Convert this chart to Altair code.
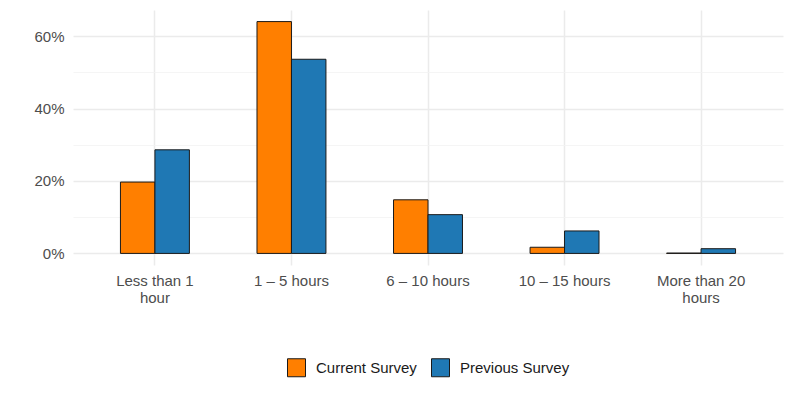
import altair as alt
import pandas as pd

categories = ["Less than 1 hour", "1 – 5 hours", "6 – 10 hours", "10 – 15 hours", "More than 20 hours"]
series_names = ["Current Survey", "Previous Survey"]
current = [19.7, 64.0, 14.8, 1.7, 0.1]
previous = [28.6, 53.6, 10.7, 6.2, 1.3]
colors = ["#ff7f00", "#1f78b4"]

rows = []
for c, a, b in zip(categories, current, previous):
    rows.append({"cat": c, "series": series_names[0], "value": a})
    rows.append({"cat": c, "series": series_names[1], "value": b})
df = pd.DataFrame(rows)

font = "Liberation Sans"

label_expr = ("datum.label == 'Less than 1 hour' ? ['Less than 1', 'hour'] : "
              "datum.label == 'More than 20 hours' ? ['More than 20', 'hours'] : datum.label")

chart = alt.Chart(df).mark_bar(stroke="#1a1a1a", strokeWidth=1).encode(
    x=alt.X("cat:N", sort=categories, title=None,
            scale=alt.Scale(paddingInner=0.495, paddingOuter=0.3475),
            axis=alt.Axis(labelAngle=0, labelExpr=label_expr, ticks=False, domain=False,
                          grid=True, bandPosition=0.5, gridColor="#ebebeb", gridWidth=1.5,
                          labelFontSize=15, labelColor="#4d4d4d", labelFont=font,
                          labelPadding=8, labelLineHeight=17, labelBaseline="top")),
    xOffset=alt.XOffset("series:N", sort=series_names,
                        scale=alt.Scale(paddingInner=0, paddingOuter=0)),
    y=alt.Y("value:Q", title=None,
            scale=alt.Scale(domain=[-3.2, 67.2], nice=False, zero=False),
            axis=alt.Axis(values=[0, 10, 20, 30, 40, 50, 60], ticks=False, domain=False,
                          labelExpr="datum.value % 20 == 0 ? format(datum.value, '.0f') + '%' : ''",
                          gridColor={"condition": {"test": "datum.value % 20 == 0", "value": "#ebebeb"}, "value": "#f2f2f2"},
                          gridWidth={"condition": {"test": "datum.value % 20 == 0", "value": 1.5}, "value": 0.8},
                          labelFontSize=15, labelColor="#4d4d4d", labelFont=font, labelPadding=9)),
    y2=alt.datum(0),
    fill=alt.Fill("series:N", sort=series_names,
                  scale=alt.Scale(domain=series_names, range=colors),
                  legend=alt.Legend(title=None, orient="none", direction="horizontal",
                                    legendX=214, legendY=348, symbolType="square",
                                    symbolSize=324, symbolStrokeColor="#1a1a1a",
                                    symbolStrokeWidth=1, labelFontSize=15, labelFont=font,
                                    labelColor="#1a1a1a", labelOffset=10, columnPadding=12,
                                    padding=0)),
).properties(
    width=710, height=255,
    autosize=alt.AutoSizeParams(type="none"),
    padding={"left": 65, "top": 2, "right": 2, "bottom": 124},
).configure_view(stroke=None)

chart.save("out.html", embed_options={"renderer": "svg", "actions": False})
